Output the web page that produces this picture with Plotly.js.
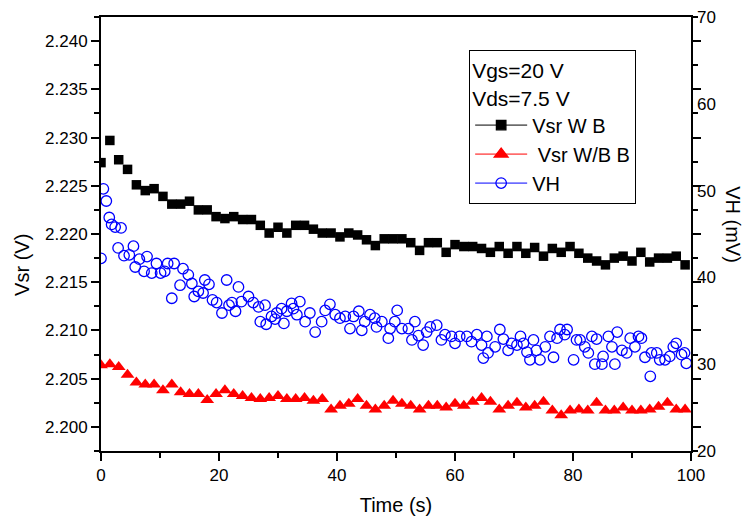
<!DOCTYPE html>
<html>
<head>
<meta charset="utf-8">
<script src="https://cdn.plot.ly/plotly-3.0.1.min.js"></script>
<style>html,body{margin:0;padding:0;background:#fff;}#chart{width:744px;height:519px;}</style>
</head>
<body>
<div id="chart"></div>
<script>
// ---- data ----
const timeVsr = [0,1.5,3,4.5,6,7.5,9,10.5,12,13.5,15,16.5,18,19.5,21,22.5,24,25.5,27,28.5,30,31.5,33,34.5,36,37.5,39,40.5,42,43.5,45,46.5,48,49.5,51,52.5,54,55.5,57,58.5,60,61.5,63,64.5,66,67.5,69,70.5,72,73.5,75,76.5,78,79.5,81,82.5,84,85.5,87,88.5,90,91.5,93,94.5,96,97.5,99];
const vsrWB = [2.2274,2.2297,2.2277,2.2267,2.2251,2.2245,2.2247,2.2239,2.2231,2.2231,2.2234,2.2225,2.2225,2.2218,2.2216,2.2218,2.2215,2.2215,2.2209,2.2201,2.2207,2.2201,2.2209,2.2209,2.2205,2.2201,2.2201,2.2197,2.2201,2.2199,2.2194,2.2188,2.2195,2.2195,2.2195,2.2191,2.2183,2.2191,2.2191,2.2181,2.2189,2.2187,2.2187,2.2185,2.2181,2.2187,2.2180,2.2187,2.2180,2.2186,2.2177,2.2185,2.2181,2.2187,2.2180,2.2175,2.2172,2.2168,2.2175,2.2177,2.2172,2.2181,2.2171,2.2175,2.2175,2.2177,2.2168];
const vsrWBB = [2.2064,2.2065,2.2062,2.2054,2.2046,2.2044,2.2044,2.2038,2.2044,2.2036,2.2034,2.2034,2.2028,2.2034,2.2038,2.2034,2.2032,2.2030,2.2029,2.2030,2.2032,2.2029,2.2029,2.2030,2.2027,2.2029,2.2018,2.2022,2.2024,2.2029,2.2022,2.2018,2.2022,2.2027,2.2024,2.2022,2.2018,2.2022,2.2022,2.2020,2.2024,2.2022,2.2026,2.2030,2.2026,2.2018,2.2022,2.2025,2.2020,2.2022,2.2026,2.2017,2.2012,2.2017,2.2018,2.2017,2.2025,2.2017,2.2017,2.2020,2.2017,2.2017,2.2018,2.2021,2.2025,2.2018,2.2018];
const timeVH = [0.0,0.4,0.9,1.4,1.8,2.4,2.9,3.4,3.9,4.8,5.5,5.8,6.5,7.3,7.8,8.6,9.4,10.1,10.8,11.3,12.0,12.4,13.4,13.9,14.8,15.4,15.8,16.5,17.3,17.6,18.3,18.9,19.6,20.5,21.3,21.7,22.2,22.8,23.3,23.8,25.0,25.8,26.7,27.0,27.8,28.0,28.9,29.5,29.8,30.6,31.0,31.5,32.3,32.6,33.2,33.7,34.6,35.4,36.3,37.4,38.0,38.8,39.7,40.5,41.4,42.2,42.8,43.7,44.2,44.7,45.6,46.4,46.7,47.6,48.7,49.0,49.8,50.2,51.0,52.1,52.7,53.2,53.8,54.6,55.2,55.8,56.9,57.7,58.3,59.4,60.0,60.8,62.0,62.8,63.7,64.5,64.8,65.4,65.6,66.8,67.6,68.2,69.0,69.6,70.5,71.1,71.6,72.2,72.7,73.3,73.8,74.4,75.3,76.1,76.7,77.3,77.8,78.6,79.0,80.1,80.6,81.2,82.0,82.6,83.2,83.7,84.0,84.9,85.1,86.0,86.6,87.1,87.5,88.3,89.1,89.7,90.5,91.1,91.6,92.2,93.1,93.3,94.2,94.7,95.6,96.4,97.0,97.5,98.4,98.9,99.2];
const vh = [42.2,50.2,48.8,46.9,46.1,45.8,43.4,45.7,42.5,42.6,43.6,41.2,42.1,40.7,42.4,40.5,41.6,40.5,40.7,41.6,37.6,41.6,39.1,41.0,40.3,39.3,37.8,38.4,38.2,39.7,39.2,37.4,37.1,35.9,39.7,36.8,37.1,36.1,38.9,37.2,37.8,37.1,36.6,34.9,36.8,34.6,35.5,35.2,35.9,36.4,34.7,36.1,37.0,36.4,35.7,37.2,34.9,35.9,33.7,34.9,36.2,36.9,35.7,35.3,35.5,34.1,35.5,36.1,33.9,34.9,35.7,35.3,34.3,34.9,33.0,34.1,34.9,36.2,34.1,34.1,32.8,34.9,33.3,32.2,33.7,34.3,34.5,32.8,33.4,33.2,32.4,33.2,33.2,32.6,33.4,32.2,30.7,33.2,31.3,32.0,34.0,32.9,31.6,32.4,32.2,33.2,32.4,31.4,30.5,32.8,31.6,30.5,32.0,33.2,30.8,33.0,34.0,33.4,34.0,30.5,32.8,32.8,32.0,31.3,33.2,30.0,32.9,30.0,30.9,33.2,32.0,30.0,33.7,31.6,31.3,33.0,32.0,33.2,33.0,30.8,28.6,31.3,31.3,30.5,30.5,30.9,32.0,32.4,31.1,31.3,30.1];
const names = ['Vsr W B', ' Vsr W/B B', 'VH'];
const legendTitle = 'Vgs=20 V<br>Vds=7.5 V';
const xTitle = 'Time (s)';
const yTitle = 'Vsr (V)';
const y2Title = 'VH (mV)';

// ---- styles ----
const FONT = 'Liberation Sans, Arial, sans-serif';
const styles = [
  {symbol: 'square', color: '#000000', size: 9.5},
  {symbol: 'triangle-up', color: '#ff0000', size: 12},
  {symbol: 'circle-open', color: '#0000ff', size: 10.5}
];

const traces = [
  {x: timeVsr, y: vsrWB, type: 'scatter', mode: 'markers', yaxis: 'y', showlegend: false,
   marker: {symbol: styles[0].symbol, color: styles[0].color, size: styles[0].size}},
  {x: timeVsr, y: vsrWBB, type: 'scatter', mode: 'markers', yaxis: 'y', showlegend: false,
   marker: {symbol: styles[1].symbol, color: styles[1].color, size: styles[1].size}},
  {x: timeVH, y: vh, type: 'scatter', mode: 'markers', yaxis: 'y2', showlegend: false,
   marker: {symbol: styles[2].symbol, color: styles[2].color, size: styles[2].size, line: {color: styles[2].color, width: 1.3}}}
];
// legend-only entries (line + symbol like the reference legend)
styles.forEach((s, i) => {
  traces.push({
    x: [null], y: [null], type: 'scatter', mode: 'lines+markers', name: names[i],
    yaxis: i === 2 ? 'y2' : 'y',
    line: {color: s.color, width: 1},
    marker: {symbol: s.symbol, color: s.color, size: s.size, line: {color: s.color, width: 1.3}}
  });
});

const layout = {
  width: 744, height: 519,
  margin: {l: 101, r: 53, t: 17, b: 68},
  paper_bgcolor: '#ffffff', plot_bgcolor: '#ffffff',
  font: {family: FONT, size: 17, color: '#000'},
  showlegend: true,
  legend: {
    x: 0.624, y: 0.924, xanchor: 'left', yanchor: 'top',
    bgcolor: 'rgba(255,255,255,1)', bordercolor: '#000', borderwidth: 1,
    font: {family: FONT, size: 20, color: '#000'},
    title: {text: legendTitle, font: {family: FONT, size: 21, color: '#000'}},
    tracegroupgap: 0, itemsizing: 'trace', itemwidth: 52
  },
  xaxis: {
    range: [0, 100], tick0: 0, dtick: 20,
    ticks: 'outside', ticklen: 8, tickwidth: 2, tickcolor: '#000',
    minor: {dtick: 10, ticks: 'outside', ticklen: 5, tickwidth: 2, tickcolor: '#000'},
    showline: true, linewidth: 2, linecolor: '#000', mirror: true,
    showgrid: false, zeroline: false,
    tickfont: {family: FONT, size: 17},
    title: {text: xTitle, font: {family: FONT, size: 20}, standoff: 14}
  },
  yaxis: {
    range: [2.1975, 2.2425], tick0: 2.2, dtick: 0.005, tickformat: '.3f',
    ticks: 'outside', ticklen: 8, tickwidth: 2, tickcolor: '#000',
    minor: {dtick: 0.0025, ticks: 'outside', ticklen: 5, tickwidth: 2, tickcolor: '#000'},
    showline: true, linewidth: 2, linecolor: '#000', mirror: 'ticks',
    showgrid: false, zeroline: false,
    tickfont: {family: FONT, size: 17}
  },
  yaxis2: {
    overlaying: 'y', side: 'right', anchor: 'x',
    range: [20, 70], tick0: 20, dtick: 10,
    ticks: '', showline: false, showgrid: false, zeroline: false,
    ticklabelstandoff: 5,
    tickfont: {family: FONT, size: 17}
  },
  annotations: [
    {text: yTitle, xref: 'paper', yref: 'paper', x: -0.134, y: 0.4286, textangle: -90,
     showarrow: false, xanchor: 'center', yanchor: 'middle', font: {family: FONT, size: 20, color: '#000'}},
    {text: y2Title, xref: 'paper', yref: 'paper', x: 1.071, y: 0.5207, textangle: 90,
     showarrow: false, xanchor: 'center', yanchor: 'middle', font: {family: FONT, size: 20, color: '#000'}}
  ]
};

Plotly.newPlot('chart', traces, layout, {staticPlot: true, displayModeBar: false});
</script>
</body>
</html>
